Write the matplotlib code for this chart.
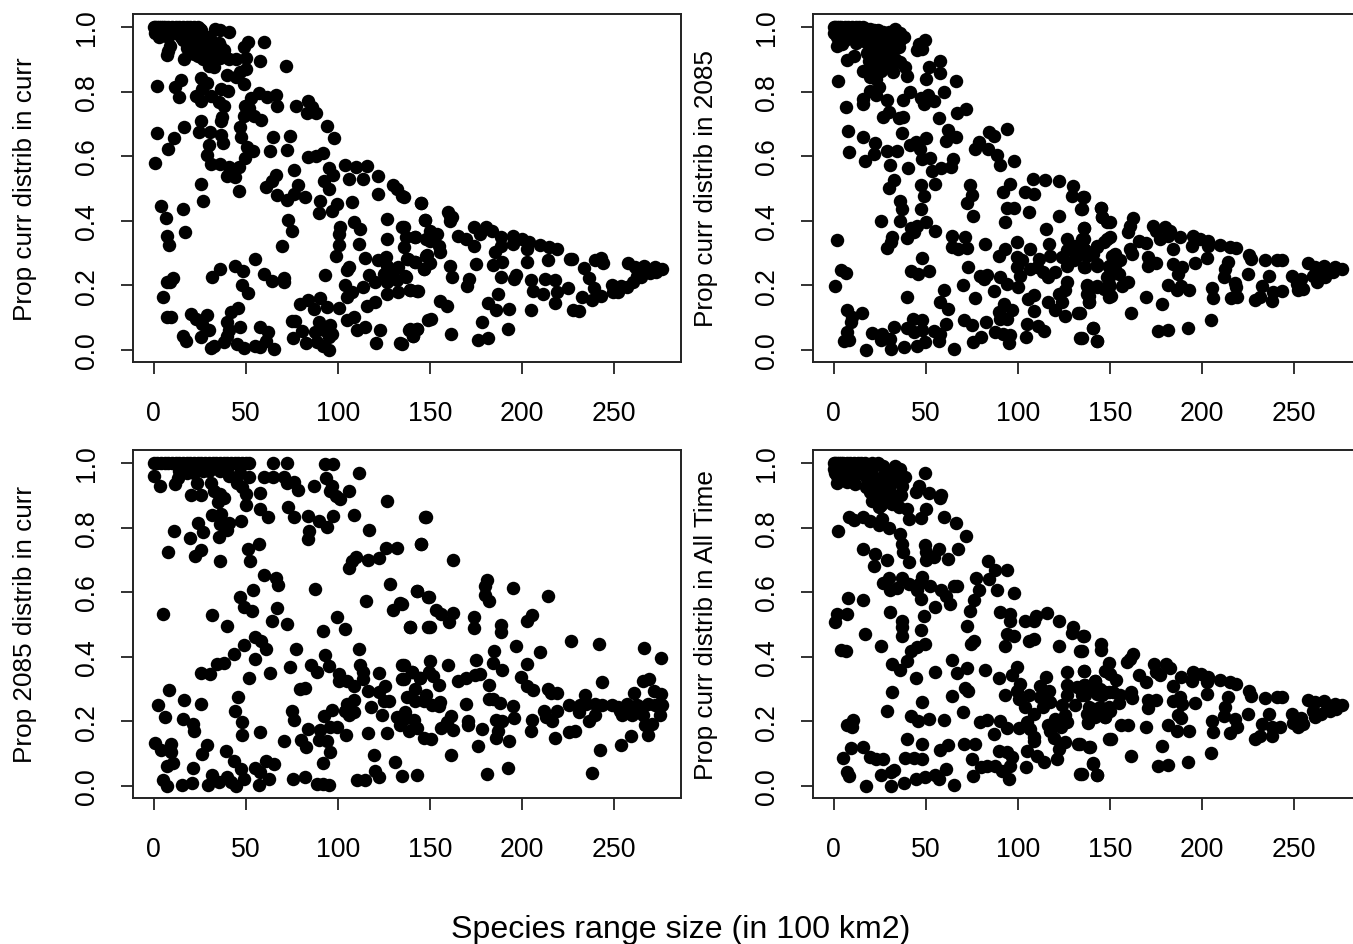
import matplotlib
matplotlib.use("Agg")
import matplotlib.pyplot as plt

x_ticks = [0, 50, 100, 150, 200, 250]
y_ticks = [0.0, 0.2, 0.4, 0.6, 0.8, 1.0]
y_labels = ["Prop curr distrib in curr", "Prop curr distrib in 2085", "Prop 2085 distrib in curr", "Prop curr distrib in All Time"]
x_label = "Species range size (in 100 km2)"

panel_a_top = [(18,.96),(20,.95),(22,.94),(24,.95),(26,.94),(28,.93),(24,.91),(27,.90),(22,.915),(30,.93),(32,.92),(34,.93),(36,.94),(38,.915),(30,.88),(28,.96),(20,.97),(16,.96),(30,.97),(27,.975),(13,.99),(9,.985),(4,.985),(18,.985),(23,.985)]
panel_a_left = [(0,1),(1,1),(2,1),(3,1),(4,1),(5,1),(6,1),(8,1),(10,1),(12,1),(14,1),(16,1),(18,1),(20,1),(22,1),(24,1),(25,.995),(26,.99),(1,.98),(3,.97),(5,.985),(8,.97),(12,.98),(15,.97),(18,.975),(22,.97),(25,.965),
(21,.95),(18,.935),(23,.925),(16.5,.90),(26,.92),(31,.94),(33.5,.995),(36,.99),(41,.985),(35.5,.95),(38,.93),(33,.915),(30,.90),(33,.875),(41,.90),(45,.90),(50,.905),(49,.937),(51,.953),(60,.953),(58,.896),(72,.88),(50,.87),(47,.86),(40,.852),(45,.844),(49,.824),(9,.942),(7.4,.913),(8,.925),(28,.95),(31,.96),(20,.92),(24,.94),(28,.91),(36,.905),
(1.6,.816),(11.6,.813),(15,.836),(14,.784),(25.5,.842),(29,.827),(26.4,.808),(22.8,.785),(25.8,.772),(31,.785),(36.7,.808),(40.3,.803),(35.4,.767),(38,.756),(37,.72),(36.7,.71),
(53,.779),(57,.796),(61.7,.782),(66.5,.789),(67,.756),(49.4,.754),(49,.725),(54.4,.725),(58.6,.713),(52,.75),(77.4,.754),(83.7,.772),(86,.751),(83.4,.734),(88,.733),(94,.692),(98,.655),
(25.9,.71),(16.5,.689),(24.6,.674),(30.6,.676),(36.7,.666),(37.8,.64),(46.8,.689),(47.6,.658),(2,.671),(11,.655),(8,.622),(1,.578),(30.2,.633),(28.8,.602),(31.3,.576),(36.3,.576),(41,.566),(46.3,.567),(39.6,.537),(44,.535),(50.8,.627),(54,.615),(49.4,.594),(64.7,.66),(74,.661),(63,.617),(72.5,.619),(84,.596),(88.4,.6),(92,.609),(66.7,.543),(64.4,.524),(61.3,.503),(76,.557),(67,.481),(72.5,.464),(76,.483),(78.5,.509),(82,.472),
(95,.562),(97.5,.54),(92.7,.522),(95.5,.498),(104,.573),(110,.566),(116,.569),(106,.529),(114,.529),(122,.538),(130,.509),(132,.498),(122,.483),(135,.475),(145,.455),
(90.6,.462),(108,.457),(99.6,.452),(97,.431),(90,.424),(26,.514),(27,.46),(46.3,.491),
(4,.444),(16,.437),(6.5,.408),(17,.364),(7,.354),(8.3,.326),
(73,.402),(75,.367),(70,.321),
(127,.406),(147.5,.402),(108.7,.395),(112,.375),(101.5,.38),(100.5,.359),(135,.38),(137,.349),(142,.349),(148,.344),(127,.344),(136,.318),(100.5,.325),(111.5,.327),(99,.29),(115,.284),(126,.287),(122,.277),(138,.282),(142,.271),(148,.292),(146.6,.251),(106,.256),(105,.246),(127,.261),(133,.256),(125,.235),(129.5,.23),(137,.225),(116.8,.233),(120.4,.21),(127,.21),(132,.215),(114,.196),(104,.201),(107.8,.179),(105,.163),(127,.173),(133,.179),(139.4,.186),(143,.183),
(93.3,.232),(31.5,.225),(36,.251),(44,.261),(48.5,.243),(55,.28),(60,.235),(64.4,.213),(70.7,.222),(71,.21),(48,.202),(51.3,.175),
(10.7,.222),(7,.21),(9,.21),(5,.163),(7,.101),(9.6,.101),
(20.4,.111),(22.8,.096),(28.8,.108),(26.4,.08),(30,.06),(16,.044),(17.4,.027),(26,.039),(31,.005),(33,.013),(38,.024),(40,.086),(42,.117),(45.7,.13),(41,.06),(47,.072),(40,.044),(45.4,.019),(49,.005),(54.8,.011),(58,.008),(65.6,.003),(58,.072),(62,.055),(61,.029),
(75,.088),(77,.088),(75.8,.036),(80.6,.057),(82.8,.021),(79.7,.142),(83.7,.153),(87,.127),(90.6,.16),(94,.132),(100.5,.13),(89.7,.086),(96,.077),(87.9,.055),(92.4,.06),(97,.05),(95,.039),(88.8,.024),(92,.013),(95,.001),
(105,.091),(108.7,.101),(110.5,.062),(114.6,.07),(122.8,.062),(121,.021),(134,.021),(116,.137),(120.4,.148),
(149,.094),(138.5,.062),(143,.065),(141,.044)]
panel_a_right = [(136,.473),(145.4,.455),(147.6,.402),(136,.38),(142,.349),(150,.369),(154,.359),(150,.338),(155,.323),(155.7,.304),(148.5,.294),(150,.268),(142,.271),(137.6,.282),(146.7,.251),(136.7,.23),(139.4,.186),(143.4,.182),
(160,.426),(161,.414),(162,.411),(161,.4),(165.6,.352),(169.6,.344),(174,.323),(173.8,.38),(177.4,.359),(180.6,.38),(183.7,.369),(188.8,.349),(188.8,.323),(185.5,.304),(195,.352),(195,.328),(200,.344),(204,.335),(202.7,.311),(210,.325),(215,.318),(219,.313),
(226,.282),(227,.28),(239.7,.277),(243,.284),(244,.269),(234,.254),(236.5,.222),(239,.192),(243,.168),(232.5,.165),(238,.153),(228,.125),(231,.12),
(161,.261),(162,.227),(171.4,.22),(170,.197),(175,.266),(184.6,.263),(189.5,.273),(202.7,.271),(214.4,.277),(188.8,.227),(197,.232),(195.5,.22),(205,.215),(206,.182),(212.6,.218),(218,.215),(211.7,.173),(219,.179),(225.3,.191),(218,.144),(186.8,.173),
(155.7,.151),(159.3,.137),(181.5,.146),(186,.125),(193.3,.127),(204.9,.122),(150.6,.096),(139.4,.065),(143,.065),(141,.042),(161.5,.05),(178.6,.086),(192.7,.065),(181.4,.037),(176,.032),(135,.019),
(257.5,.268),(261.4,.256),(266.3,.261),(272.3,.256),(276,.251),(273,.24),(269.6,.238),(265,.225),(260.5,.21),(254,.199),(248.8,.201),(249.7,.179),(252.4,.179),(257,.194),(262.3,.23),(267.8,.246)]

panel_b_top = [(16,.97),(19,.96),(22,.95),(25,.93),(28,.94),(31,.97),(25,.97),(18,.92),(21,.91),(24,.90),(28,.91),(33,.96),(30,.88),(32,.86),(19,.87),(23,.88),(10,.985),(14,.985),(5,.985)]
panel_b_left = [(0,1),(1,1),(2,1),(3,1),(4,1),(6,1),(8,1),(10,1),(12,1),(14,1),(16,1),(18,.995),(20,.995),(22,.99),(24,.99),(27,.985),(30,.985),(33.5,.995),(36,.98),(38,.97),(0,.98),(2,.97),(4,.98),(6,.96),(9,.97),(12,.95),(15,.96),
(2,.942),(4.7,.947),(12,.963),(17.4,.953),(21,.937),(25.5,.953),(31,.942),(35.4,.937),(36.3,.958),(28,.968),(23.7,.968),(19,.922),(22.8,.927),(26.4,.916),(31,.922),(19,.896),(26.4,.896),(33.6,.901),(36.3,.89),(39,.875),
(7.4,.899),(11,.911),(16,.863),(20,.844),(25.5,.862),(22.8,.839),(40,.849),(49.4,.958),(46.3,.947),(45.4,.927),(48,.932),
(58,.896),(52,.875),(58,.857),(50,.839),(66.5,.834),(60.2,.8),
(2.4,.832),(6.5,.753),(20,.803),(24.6,.813),(22.8,.789),(16,.777),(16,.762),(28.8,.775),(37.8,.775),(41.4,.798),(47.6,.779),(51,.789),(49,.762),(54.4,.772),
(72,.746),(67,.734),(57,.718),(30,.736),(26.8,.72),(35.4,.718),(37.8,.72),
(7.8,.679),(8.3,.612),(16,.658),(22.4,.64),(21.9,.605),(16.8,.584),(28.8,.617),(34.5,.615),(37.3,.671),(30.4,.571),(40.3,.562),(41.4,.633),(44.5,.643),(46.8,.622),(50,.656),(48,.591),(52.6,.593),(62.2,.682),(66.7,.66),(60.8,.646),(64.7,.591),(63.5,.566),(58.4,.562),(53.5,.553),(54.8,.514),(32.7,.527),(30,.502),(47.7,.512),(49,.478),
(84.3,.676),(94.2,.684),(87,.661),(78.8,.645),(77,.622),(83.9,.622),(88.8,.602),(90.6,.571),(98,.584),
(74,.512),(75,.481),(72.5,.454),(75.8,.414),(95.7,.514),(92,.49),(108.3,.529),(115,.526),(122.2,.524),(104,.488),(109,.483),(130,.506),(129.5,.478),(135.4,.473),(94.2,.439),(97.8,.44),(93.3,.397),(106,.426),(122.2,.414),(134.4,.437),(145.4,.439),(145.7,.411),(148.5,.397),
(36.3,.462),(37.3,.437),(36.3,.4),(47.2,.437),(26,.398),(50,.395),(45.4,.385),(42.3,.377),(43.6,.364),(55.3,.369),(31.5,.349),(39.6,.347),(31,.333),(28.8,.316),
(2,.341),(4.2,.246),(6.5,.238),(1,.199),
(64.4,.354),(71.6,.349),(64.4,.318),(67.4,.311),(72.5,.316),(82,.328),(48,.285),(42,.244),(45.7,.235),(51.7,.243),
(73,.256),(70.3,.201),(60,.184),(40,.163),(57.7,.148),(62,.127),(77,.16),(79.7,.23),(83.4,.233),(81.6,.218),(87.3,.181),(90.6,.225),(94.2,.204),(100,.196),
(89.7,.292),(93.3,.313),(99.6,.333),(106.5,.313),(99.6,.287),(102.4,.277),(99.6,.256),(101.5,.23),(106.9,.251),(111.4,.282),(117.7,.29),(110.5,.256),(114,.24),(116.3,.225),(120.4,.24),(116.8,.328),(115.5,.373),(127,.342),(135.8,.378),(135,.344),(148.5,.344),(143,.318),(130.4,.323),(136.8,.308),(127,.308),(124,.287),(127,.261),(132,.292),(130.4,.277),(137.6,.292),(135.8,.256),(143,.261),(149.4,.256),(151,.292),
(127,.21),(122.2,.173),(125.8,.186),(137.6,.202),(143,.197),(137.6,.173),(138.5,.148),(148.5,.225),(149.4,.194),(149.4,.163),
(105.4,.158),(109,.171),(108.7,.12),(116.3,.148),(120.4,.122),(124,.148),(125.8,.106),(133,.115),
(92.4,.142),(97,.122),(89.7,.117),(94.2,.096),(90.6,.096),(82.8,.086),(70.7,.094),(75,.077),(87.5,.055),(92,.05),(96,.046),(95,.021),(105,.08),(110.8,.075),(114.5,.057),(104.7,.041),(80.3,.039),(75.8,.024),
(140.9,.067),(134,.036),(143,.027),
(7,.125),(10.1,.101),(15.6,.115),(9.6,.086),(7,.055),(5.6,.026),(8.3,.031),(17.4,.001),(21,.053),(26.4,.05),(25.5,.032),(30.6,.034),(31,.003),(38,.01),(45.4,.013),(49.4,.024),(65.6,.003),(32.7,.072),(40,.067),(43.2,.096),(48,.091),(48,.06),(43.6,.055),(54.4,.057),(57,.029),(60.8,.08),(58,.05)]
panel_b_right = [(136,.473),(135,.437),(145.4,.439),(145.7,.411),(150,.397),(136,.377),(162.6,.408),(161,.385),(160,.366),(150,.349),(146.7,.333),(143,.323),(136,.344),(136,.313),(141,.297),(153,.297),(155.7,.277),(149.4,.261),(153,.251),(154.8,.235),(143,.266),(136.7,.256),(161,.313),(162,.297),(166,.338),(169.8,.33),(171,.287),(175,.269),(170.5,.259),
(173.4,.383),(175,.369),(180,.38),(182.8,.369),(177.4,.344),(181.4,.354),(188,.349),(184.6,.313),(195,.352),(194.6,.321),(199,.344),(203.6,.338),(203.6,.323),(210,.325),(215.3,.318),(218.6,.315),(203,.284),(196.4,.269),(184.6,.266),(189,.256),(186.8,.235),
(225.8,.294),(226.7,.28),(234.3,.279),(240.7,.279),(243.4,.277),(214.4,.273),(212.6,.251),(212,.225),(225.3,.235),(236.5,.228),(232.5,.199),(243.4,.181),(238.8,.179),(238,.151),(231.6,.163),(229,.155),(218,.207),(218.6,.194),(219.3,.165),(215.7,.161),(205.4,.191),(206,.161),
(181.9,.202),(186.4,.184),(188.8,.199),(193.3,.186),(169.6,.163),(178.6,.142),(159.8,.209),(156.6,.197),(150.6,.168),(149.4,.204),(146.7,.189),(149.4,.225),(143,.194),(137.6,.199),(138.5,.168),(138.5,.148),(134,.114),(161.5,.115),(205,.091),(192.7,.067),(181.4,.06),(176,.057),(141,.067),(134.9,.036),(143,.027),
(248.8,.228),(251.5,.204),(252.4,.184),(255,.189),(254,.22),(260.5,.23),(262.3,.21),(267,.225),(271.4,.24),(276,.251),(272.3,.256),(266.3,.261),(261.4,.256),(257.5,.268),(264,.246),(268.7,.24)]

panel_c_top = [(18,.975),(27,.975),(36,.975),(47,.97),(30,.975),(22,.97),(14,.975),(40,.98)]
panel_c_left = [(0,1),(2,1),(4,1),(6,1),(8,1),(10,1),(12,1),(14,1),(16,1),(18,1),(20,1),(22,1),(24,1),(26,1),(28,1),(30,1),(32,1),(34,1),(36,1),(38,1),(40,1),(42,1),(44,1),(46,1),(48,1),(50,1),(52,1),(65,1),(72.5,1),(93.3,.997),(97.3,.997),
(111.4,.968),(0,.958),(3.4,.928),(11.6,.935),(13.2,.953),(18.3,.968),(23.7,.937),(31,.937),(20.4,.902),(25.5,.902),(32.7,.914),(36.3,.904),(38.5,.892),(35,.878),(40.9,.958),(45.4,.937),(51.7,.956),(48,.925),(50,.904),(58,.906),(50,.87),
(60,.956),(64.7,.956),(71,.956),(72.5,.937),(76,.94),(78.5,.916),(87.3,.928),(93.8,.953),(97,.93),(96,.914),(99.3,.899),(101.4,.889),(106.3,.914),(126.8,.881),
(58,.858),(62.2,.834),(72.9,.865),(76,.834),(83.7,.836),(89.7,.819),(94.2,.803),(97.5,.836),(108.7,.839),(116.8,.793),(84.3,.788),(83.7,.763),(147.5,.832),(145.4,.749),(132.2,.736),(126.4,.737),(122.2,.705),(116.3,.698),(110,.708),(107.8,.696),(106,.675),
(11,.79),(24.2,.814),(27,.785),(20,.768),(31.5,.839),(36.7,.842),(35.4,.77),(36.3,.811),(40.9,.813),(39.6,.793),(47.6,.819),(57,.749),(51,.734),
(7.8,.725),(25.9,.731),(22.4,.713),(36,.696),(52.3,.695),
(59.9,.653),(66.5,.644),(67.4,.622),(87.9,.609),(54,.605),(46.8,.586),(49,.555),(53.5,.543),(67,.55),(128.6,.625),(143,.602),(149,.586),(115.5,.571),(134,.566),(129.8,.546),
(5.2,.533),(31.8,.53),(39.6,.495),(64.4,.512),(72.5,.502),(99.6,.522),(92,.481),(104,.485),(139.4,.491),(149,.491),
(54.8,.462),(58.4,.448),(61,.424),(49,.437),(43.9,.407),(54.8,.393),(38.2,.381),(34.2,.378),(25.9,.35),(30.6,.347),(51.7,.333),(63,.35),(74,.369),(77.4,.424),(93.3,.406),(111.4,.424),(85.7,.373),(88.8,.354),(95.5,.37),(112.3,.373),(113.7,.352),(113.7,.331),(122.2,.35),(100.5,.347),(100.5,.326),(105,.324),(109,.308),(134.9,.373),(140.3,.352),(134.9,.331),(144.8,.333),
(8.3,.298),(16.5,.266),(25.9,.254),(2.4,.251),(45.7,.275),(44,.233),(6,.213),(16,.206),(21.3,.192),(21.9,.169),(48,.199),(48,.159),(58,.166),
(79.7,.3),(82,.302),(116.5,.293),(125.9,.308),(122.2,.29),(127.7,.264),(125,.264),(109,.267),(105,.254),(104,.233),(109,.23),(106,.218),(118,.244),(124,.218),(97,.236),(92.4,.216),
(74.9,.233),(76,.204),(83.7,.176),(90.6,.173),(96,.182),(99.6,.182),(104.7,.158),(116.3,.165),(126.8,.163),(132,.213),(136.7,.218),(134,.187),(70.7,.138),(80.3,.142),(82.8,.12),(89.7,.142),(94.2,.138),(96,.106),
(1,.132),(4.2,.111),(9.6,.13),(9.6,.104),(28.8,.127),(26.4,.099),(39.4,.109),(43.6,.078),(7,.06),(10.7,.071),(21.3,.056),(47.2,.053),(54.8,.055),(60.8,.078),(65.6,.068),(91.9,.071),(119.5,.096),(130.9,.073),(120.4,.047),(122.2,.029),
(5.2,.019),(7,.001),(15.6,.004),(21,.008),(31.5,.034),(29.5,.004),(35.4,.011),(40,.027),(45,.001),(49,.022),(57,.004),(58,.042),(62.6,.022),(41.8,.011),(75.6,.022),(82,.029),(88.8,.006),(92,.006),(95,.004),(110.5,.017),(114.6,.017)]
panel_c_right = [(148,.832),(145.4,.749),(162.4,.698),(181,.638),(180,.62),(180,.592),(182.3,.572),(195,.612),(214,.587),(143,.603),(149.7,.586),(135,.563),(153.3,.546),(156,.533),(162.4,.535),(160.6,.507),(139.4,.491),(150,.491),(173.8,.524),(174.3,.489),(188.8,.498),(188.6,.476),(205.8,.53),(203,.512),(226.7,.448),(242,.44),(266.5,.426),(275.4,.396),(197,.434),(185,.417),(210,.416),(175,.391),(184.3,.381),(189,.36),(202.7,.378),(159.8,.374),(150,.386),(135.8,.373),(140.3,.354),(149.4,.352),(152,.34),(144.8,.333),(135.8,.331),(154.8,.313),(165.6,.326),(169.6,.334),(174.7,.342),(177.4,.347),(199.4,.336),(182,.313),(203,.308),(206,.298),(214.4,.3),(215.7,.287),(219,.288),(243.4,.323),(266,.326),(269,.331),(272,.295),(275.5,.283),(261,.287),(234.3,.282),
(142,.3),(137.6,.275),(142,.264),(148,.28),(146.7,.264),(151,.249),(155.3,.259),(154.8,.247),(169.6,.254),(182,.269),(184.6,.269),(188.2,.257),(195,.246),(225.7,.251),
(231.6,.249),(231,.23),(235,.252),(239.7,.254),(243.4,.249),(248.8,.249),(252.4,.244),(253.3,.233),(254.2,.218),(257,.254),(259.6,.244),(259.6,.218),(262.3,.249),(265,.244),(268.7,.254),(272.3,.249),(276,.249),(275,.218),(266,.218),(266.9,.187),(270.8,.192),(268.3,.156),(259.3,.153),(253.8,.127),(242.5,.111),(240,.221),(236.5,.202),
(136.7,.228),(141.2,.205),(135.8,.207),(138.5,.171),(143,.179),(146.7,.148),(150.6,.146),(161.5,.216),(159.3,.197),(156,.18),(162.4,.173),(171,.2),(170.5,.187),(178.3,.176),(176,.123),(161.5,.097),(185.9,.205),(189,.202),(195.8,.211),(187,.171),(186,.149),(193.3,.14),(205.4,.205),(204.9,.171),(212,.233),(213,.213),(216.3,.202),(219,.233),(218,.149),(225.7,.166),(229,.171),
(192.7,.056),(181,.037),(143,.034),(135,.032),(238,.04)]

panel_d_top = [(3,.955),(5,.95),(7,.94),(12,.98),(14,.97),(18,.95),(20,.96),(23,.95),(27,.96),(28,.93),(25,.92),(32,.97),(34,.96),(20,.91),(24,.9),(28,.89),(32,.9),(26,.87),(37,.93)]
panel_d_left = [(0,1),(1,1),(2,1),(3,1),(4,1),(5,1),(7,1),(9,1),(11,1),(13,1),(15,1),(17,1),(19,.995),(21,1),(24,1),(27,.99),(0,.98),(1,.97),(2,.96),(3,.975),(5,.98),(7,.97),(9,.985),
(1.6,.937),(4.7,.961),(8.3,.966),(11.6,.935),(16.5,.966),(21,.981),(17.4,.925),(22,.935),(25.5,.945),(29,.956),(30,.92),(33.6,.992),(36.3,.981),(39,.956),(35.4,.961),(32.7,.945),(36.7,.902),(49.4,.968),(46.3,.93),(45,.909),(51.7,.906),(58.1,.902),(58,.89),
(21,.883),(26.4,.889),(24.6,.863),(31.8,.873),(35.4,.863),(39.6,.858),(40.9,.827),(47.2,.83),(50,.856),(60.2,.832),(66.5,.813),(72.1,.775),
(8.3,.834),(11,.824),(16,.834),(20,.821),(24.6,.808),(26.4,.827),(30,.799),(2.4,.788),(35.8,.78),(37.3,.749),(37.8,.725),
(16,.732),(22.4,.718),(28.8,.698),(21.9,.682),(41.2,.692),(49.4,.746),(57.1,.734),(50,.723),(54.4,.708),(50,.698),(62,.701),(67.4,.732),
(83.7,.696),(87.9,.669),(94.2,.667),(77.4,.644),(84.6,.641),(78.8,.605),(88.8,.605),(98.2,.598),(76,.577),
(30,.643),(26.8,.627),(37.3,.644),(40.9,.625),(48,.646),(46.3,.625),(52.6,.62),(58.4,.608),(65.2,.618),(67,.618),(30.4,.605),(34.5,.613),(45.4,.605),(47.2,.579),(60.8,.589),(63,.563),(54.8,.553),(49,.526),
(7.8,.581),(16,.576),(7.4,.533),(1.6,.533),(1,.507),(30.4,.538),(36.9,.512),(36.9,.491),(37.3,.463),(47.2,.483),(16.8,.469),(26,.434),(3.8,.422),(6.5,.417),
(49.4,.44),(45.4,.429),(42.3,.417),(40,.386),(31.8,.378),(36.3,.359),(44.5,.334),(55.3,.352),(64.4,.39),(67,.35),(72.5,.365),(82,.359),(74,.54),(72.5,.496),(76,.45),(74.7,.44),
(90.6,.538),(95.7,.533),(95.7,.512),(104,.509),(108.7,.512),(110,.527),(115.9,.536),(122.2,.51),(129.8,.493),(129.5,.473),(135.4,.463),(94.2,.469),(97.8,.463),(93.3,.432),(106,.45),(109,.455),(122.2,.432),(134,.417),
(99.6,.367),(96.9,.344),(90,.334),(115.5,.336),(126.8,.354),(135.8,.357),
(101,.316),(99.6,.295),(112.3,.308),(116.8,.295),(93.3,.282),(100.5,.269),(106,.28),(112.3,.275),(117.7,.259),(114,.244),(104,.244),(108.7,.223),
(126.8,.311),(132.2,.305),(136.7,.311),(142,.326),(143,.29),(147.6,.29),(126.8,.28),(131.3,.249),(124,.249),(134.9,.28),(138.5,.244),(144.8,.244),(139.4,.223),(147.6,.213),(138,.197),(149.4,.244),
(125.8,.218),(120.4,.207),(116.3,.187),(117.7,.171),(119.5,.149),(123.5,.182),(126.8,.197),(100.5,.18),(105,.197),(106.9,.176),(108.7,.151),(109,.138),(94.2,.179),(90.6,.202),(87.3,.161),(79.7,.197),(83.4,.205),(70.3,.23),(59.9,.204),(64.4,.278),(71.6,.303),(72.9,.293),(48,.259),(31.8,.292),(28.8,.233),(42.1,.216),(45.7,.2),(51.7,.207),(10.7,.204),(7,.189),(10.1,.182),
(40,.146),(48,.13),(58,.111),(62.2,.127),(70.7,.13),(77,.13),(9.6,.117),(15.9,.12),(5.2,.087),(20,.089),(22.8,.084),(26.9,.084),(39,.087),(43.6,.086),(48,.082),(74.9,.084),
(7,.042),(8.3,.03),(17.4,.001),(25.9,.034),(30.9,.042),(32.7,.05),(30.9,.001),(38,.009),(45,.02),(49.4,.027),(54.8,.035),(57.1,.022),(60.8,.053),(65.6,.003),(75.8,.03),(80.3,.058),(83.4,.06),(87.9,.063),(91.5,.047),(96,.06),(95,.02),(104.7,.058),(89.7,.109),(94.2,.104),(97,.089),(105,.107),(110.5,.094),(114.5,.073),(121.3,.082),(125.8,.135),(122.2,.115),(133,.13),(139,.12),(140.9,.07),(134,.037),(143,.034),(149.4,.146)]
panel_d_right = [(135.8,.465),(135,.419),(145.4,.44),(145.4,.422),(136,.357),(149.7,.38),(147.6,.357),(150.3,.347),(162.6,.409),(161,.393),(159.3,.385),(153.5,.328),(142,.326),(135.8,.311),(140.3,.3),(144.8,.3),(136.7,.28),(143,.285),(149.4,.29),(152,.29),(155.7,.28),(154.8,.256),(145.7,.28),(161.5,.292),(162,.272),(166,.342),(169.6,.321),(175.2,.266),(171,.266),(170.5,.241),
(141.2,.238),(137.6,.223),(144.8,.238),(150,.233),(147.6,.213),(142,.213),(138,.195),(156,.187),(159.7,.188),(169.6,.182),(150.6,.146),(134,.13),(138.5,.12),(161.7,.092),(141,.068),(135,.037),(143,.034),(178.6,.125),(181.4,.065),(176,.06),(192.7,.075),(205,.103),
(173.8,.378),(175.2,.352),(177.4,.342),(180.6,.378),(182.8,.365),(188.8,.336),(184.6,.308),(195,.352),(194.6,.324),(199.4,.345),(203.6,.338),(202.7,.321),(210,.328),(215.3,.321),(218.6,.314),(203,.285),(196.4,.256),(188.2,.274),(184.6,.264),(189,.252),(186.8,.221),(188.8,.211),(181.9,.187),(186.4,.171),(193.3,.171),(205.4,.2),(206,.166),
(214.4,.275),(212.6,.244),(212,.215),(218,.207),(219,.182),(215.3,.163),(225.3,.223),(225.8,.295),(226.7,.278),(234.3,.271),(240.7,.275),(243.4,.275),(236.5,.223),(232.5,.192),(238,.182),(242.5,.182),(238,.154),(231.6,.154),(229,.146),
(248.8,.223),(249.7,.194),(252.4,.182),(255,.192),(254,.21),(257.5,.267),(261.4,.259),(266.3,.264),(272.3,.254),(276,.249),(273,.238),(269.6,.233),(265,.223),(261.4,.213),(260.5,.233),(267.8,.249)]

panels = [panel_a_top + panel_a_left + panel_a_right, panel_b_top + panel_b_left + panel_b_right,
          panel_c_top + panel_c_left + panel_c_right, panel_d_top + panel_d_left + panel_d_right]

plt.rcParams['font.family'] = ['Liberation Sans', 'DejaVu Sans']
W, H = 1353, 945
fig = plt.figure(figsize=(W/100, H/100), dpi=100, facecolor='white')
boxes = [(133, 15), (813, 15), (133, 451), (813, 451)]
label_x = [37, 718, 37, 718]
ax_w, ax_h = 547.5, 347.5
for pts, (left, top), label, lx in zip(panels, boxes, y_labels, label_x):
    ax = fig.add_axes([left/W, 1-(top+ax_h)/H, ax_w/W, ax_h/H])
    ax.scatter([p[0] for p in pts], [p[1] for p in pts], s=94, c='black', linewidths=0)
    ax.set_xlim(-11.2, 286.2)
    ax.set_ylim(-0.036, 1.04)
    ax.set_xticks(x_ticks)
    ax.set_yticks(y_ticks)
    ax.set_yticklabels([f"{v:.1f}" for v in y_ticks], rotation=90, va='center')
    ax.tick_params(axis='x', length=8.5, width=1.3, labelsize=19.2, pad=19, color='#222222')
    ax.tick_params(axis='y', length=8.5, width=1.3, labelsize=19.2, pad=15, color='#222222')
    for s in ax.spines.values():
        s.set_linewidth(1.4)
        s.set_color('#222222')
    ax.set_ylabel(label, fontsize=18.8)
    ax.yaxis.set_label_coords((lx - left)/ax_w, 0.5)
fig.text(681/W, 1-930/H, x_label, ha='center', va='center', fontsize=23.1)
fig.savefig('out.png', dpi=100)
